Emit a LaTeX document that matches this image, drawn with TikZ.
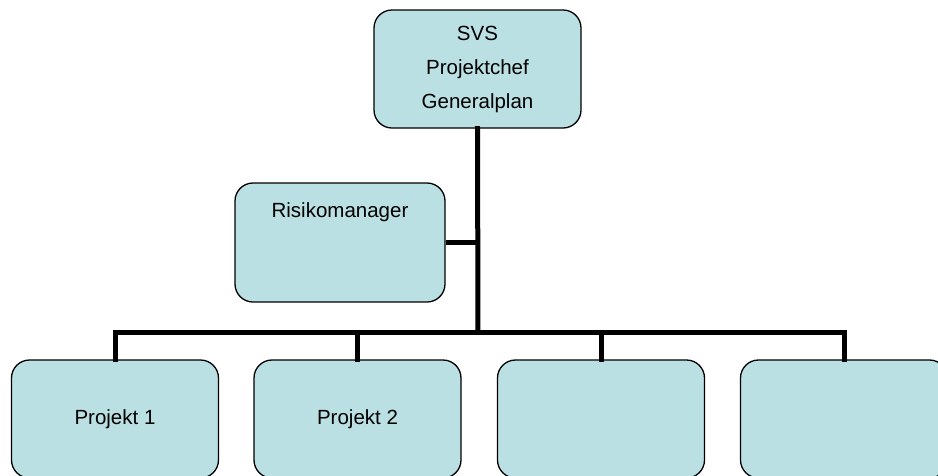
\documentclass[tikz,border=0pt]{standalone}
\usepackage{fontspec}
\setmainfont{Liberation Sans}
\usepackage{xcolor}
\usetikzlibrary{positioning,calc}

\definecolor{boxfill}{RGB}{187,224,227}

\tikzset{
    orgbox/.style={draw=black, line width=1.3pt, fill=boxfill, rounded corners=18pt,
        minimum width=207pt, minimum height=118pt, inner sep=0pt, align=center,
        font=\fontsize{20.5}{34}\selectfont},
    link/.style={line width=5pt, line cap=rect}
}

\begin{document}
\begin{tikzpicture}[x=1pt, y=-1pt]
    \useasboundingbox (0,0) rectangle (938,475);
    \clip (0,0) rectangle (938,475);

    % Head
    \node[orgbox] (chef) at (477.5,69) {SVS\\Projektchef\\Generalplan};

    % Staff
    \node[orgbox, minimum width=210pt, minimum height=119pt,
          label={[anchor=north, yshift=-17pt, font=\fontsize{20.5}{24}\selectfont]north:Risikomanager}]
          (risk) at (340,242.5) {};

    % Projects
    \foreach \name/\x/\txt in {p1/115/Projekt 1, p2/357.5/Projekt 2, p3/601/, p4/844/} {
        \node[orgbox] (\name) at (\x,419) {\txt};
    }

    % Lines
    \coordinate (bus) at (478,332);
    \draw[link] (chef.south) -- (bus);
    \draw[link, line cap=butt] (risk.east) -- (risk.east -| bus);
    \draw[link] (p1.north) |- (bus) -| (p4.north);
    \draw[link] (p2.north) -- (p2.north |- bus);
    \draw[link] (p3.north) -- (p3.north |- bus);
\end{tikzpicture}
\end{document}
